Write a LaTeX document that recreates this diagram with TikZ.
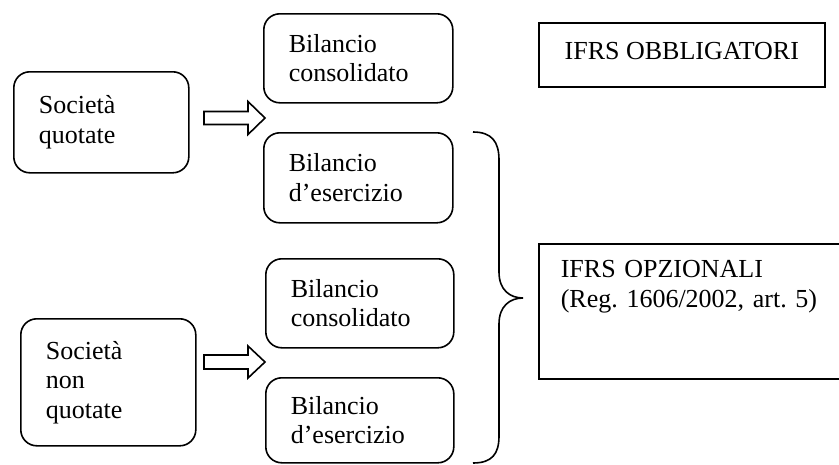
\documentclass[tikz,border=0pt]{standalone}
\usepackage{fontspec}
\setmainfont{Liberation Serif}
\frenchspacing
\begin{document}
\begin{tikzpicture}[x=1pt,y=-1pt,
  txt/.style={font=\fontsize{26}{29.5}\selectfont},
  rbox/.style={txt,draw,line width=1.6pt,rounded corners=16pt,anchor=north west,
     align=left,inner xsep=25pt,inner ysep=0pt},
  sbox/.style={txt,draw,line width=1.6pt,anchor=north west,inner xsep=22pt},
  blockarrow/.style={draw,line width=1.6pt,line join=miter},
  brace/.style={draw,line width=1.6pt}]
\useasboundingbox (0,0) rectangle (839,464);
% left boxes
\node[rbox,text width=125pt,minimum width=175pt,minimum height=101pt] (sq) at (13,71) {Società\\quotate};
\node[rbox,text width=125pt,minimum width=175pt,minimum height=127pt] (snq) at (20,318) {Società\\non\\quotate};
% middle boxes
\node[rbox,text width=139pt,minimum width=189pt,minimum height=89pt] (bc1) at (263,13) {Bilancio\\consolidato};
\node[rbox,text width=139pt,minimum width=189pt,minimum height=90pt] (be1) at (263,132) {Bilancio\\d’esercizio};
\node[rbox,text width=138pt,minimum width=188pt,minimum height=89pt] (bc2) at (265,258) {Bilancio\\consolidato};
\node[rbox,text width=138pt,minimum width=188pt,minimum height=85pt] (be2) at (265,377) {Bilancio\\d’esercizio};
% right boxes
\node[sbox,minimum width=286pt,minimum height=64pt,text height=18pt,text depth=9pt] (obb) at (538,22) {IFRS OBBLIGATORI};
\node[sbox,align=left,text width=300pt,inner ysep=16pt,text height=18pt,text depth=85pt] (opz) at (538,243) {IFRS OPZIONALI\\(Reg. 1606/2002, art. 5)};
% block arrows
\coordinate (a1) at (204,118);
\coordinate (a2) at (204,362);
\draw[blockarrow] (a1) ++(0,-6.5) -- ++(44,0) -- ++(0,-10) -- ++(17,16.5) -- ++(-17,16.5) -- ++(0,-10) -- ++(-44,0) -- cycle;
\draw[blockarrow] (a2) ++(0,-7) -- ++(44,0) -- ++(0,-9) -- ++(17,16) -- ++(-17,16) -- ++(0,-9) -- ++(-44,0) -- cycle;
% brace
\coordinate (bt) at (473,132);
\coordinate (bp) at (523,298);
\coordinate (bb) at (473,463);
\draw[brace] (bt) .. controls (492,132) and (499,142) .. (499,160)
  -- (499,272) .. controls (499,290) and (510,298) .. (bp)
  .. controls (510,298) and (499,306) .. (499,324)
  -- (499,436) .. controls (499,454) and (492,463) .. (bb);
\end{tikzpicture}
\end{document}
